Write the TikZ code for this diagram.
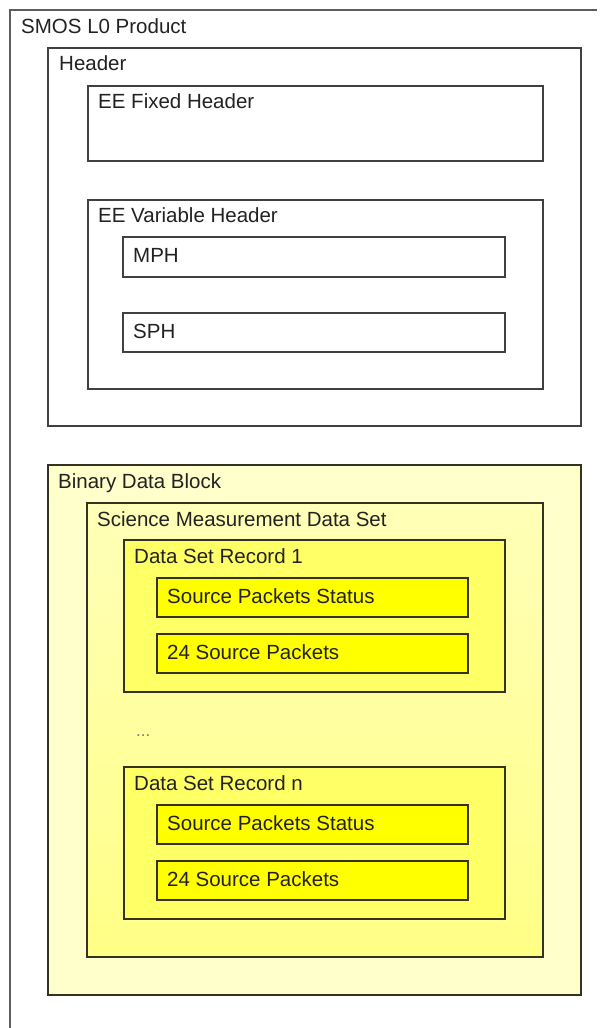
\documentclass[tikz,border=0pt]{standalone}
\usepackage{fontspec}
\setmainfont{Liberation Sans}
\definecolor{edgegray}{HTML}{404040}
\definecolor{edgedark}{HTML}{333322}
\definecolor{txt}{HTML}{222222}
\definecolor{bdbfill}{HTML}{FFFFCC}
\definecolor{smdstop}{HTML}{FFFFB8}
\definecolor{smdsbot}{HTML}{FFFF85}
\definecolor{recfill}{HTML}{FFFF66}
\definecolor{srcfill}{HTML}{FFFF00}
\begin{document}
\begin{tikzpicture}[x=1pt,y=-1pt,
  box/.style={draw=edgegray, line width=1.6pt, fill=white, anchor=north west, inner sep=0pt, outer sep=0pt},
  ybox/.style={box, draw=edgedark},
  lbl/.style={anchor=base west, inner sep=0pt, text=txt, font=\fontsize{20.5}{24}\selectfont}
]
\useasboundingbox (0,0) rectangle (606,1028);
% outer frame (only top and left edges visible)
\coordinate (otl) at (10,10);
\coordinate (otr) at (597,10);
\coordinate (obl) at (10,1028);
\draw[line width=2pt, color=edgegray!85] (otr) -- (otl) -- (obl);
\node[lbl] (tsmos) at (21,33) {SMOS L0 Product};

% Header
\node[box, minimum width=533pt, minimum height=378pt] (header) at (48,48) {};
\node[lbl] (theader) at (59,70) {Header};
\node[box, minimum width=455pt, minimum height=75pt] (fixed) at (88,86) {};
\node[lbl] (tfixed) at (98,108) {EE Fixed Header};
\node[box, minimum width=455pt, minimum height=189pt] (var) at (88,200) {};
\node[lbl] (tvar) at (98,222) {EE Variable Header};
\node[box, minimum width=382pt, minimum height=40pt] (mph) at (123,237) {};
\node[lbl] (tmph) at (133,262) {MPH};
\node[box, minimum width=382pt, minimum height=39pt] (sph) at (123,313) {};
\node[lbl] (tsph) at (133,338) {SPH};

% Binary Data Block
\node[ybox, fill=bdbfill, minimum width=533pt, minimum height=530pt] (bdb) at (48,465) {};
\node[lbl] (tbdb) at (58,488) {Binary Data Block};
\node[ybox, top color=smdstop, bottom color=smdsbot, minimum width=456pt, minimum height=454pt] (smds) at (87,503) {};
\node[lbl] (tsmds) at (97,526) {Science Measurement Data Set};

\node[ybox, fill=recfill, minimum width=381pt, minimum height=152pt] (rec1) at (124,540) {};
\node[lbl] (trec1) at (134,563) {Data Set Record 1};
\node[ybox, fill=srcfill, minimum width=311pt, minimum height=39pt] (sps1) at (157,578) {};
\node[lbl] (tsps1) at (167,603) {Source Packets Status};
\node[ybox, fill=srcfill, minimum width=311pt, minimum height=39pt] (sp1) at (157,634) {};
\node[lbl] (tsp1) at (167,659) {24 Source Packets};

\node[lbl, text=txt!60, font=\fontsize{17}{20}\selectfont] (dots) at (136,736) {...};

\node[ybox, fill=recfill, minimum width=381pt, minimum height=152pt] (recn) at (124,767) {};
\node[lbl] (trecn) at (134,790) {Data Set Record n};
\node[ybox, fill=srcfill, minimum width=311pt, minimum height=39pt] (spsn) at (157,805) {};
\node[lbl] (tspsn) at (167,830) {Source Packets Status};
\node[ybox, fill=srcfill, minimum width=311pt, minimum height=39pt] (spn) at (157,861) {};
\node[lbl] (tspn) at (167,886) {24 Source Packets};
\end{tikzpicture}
\end{document}
